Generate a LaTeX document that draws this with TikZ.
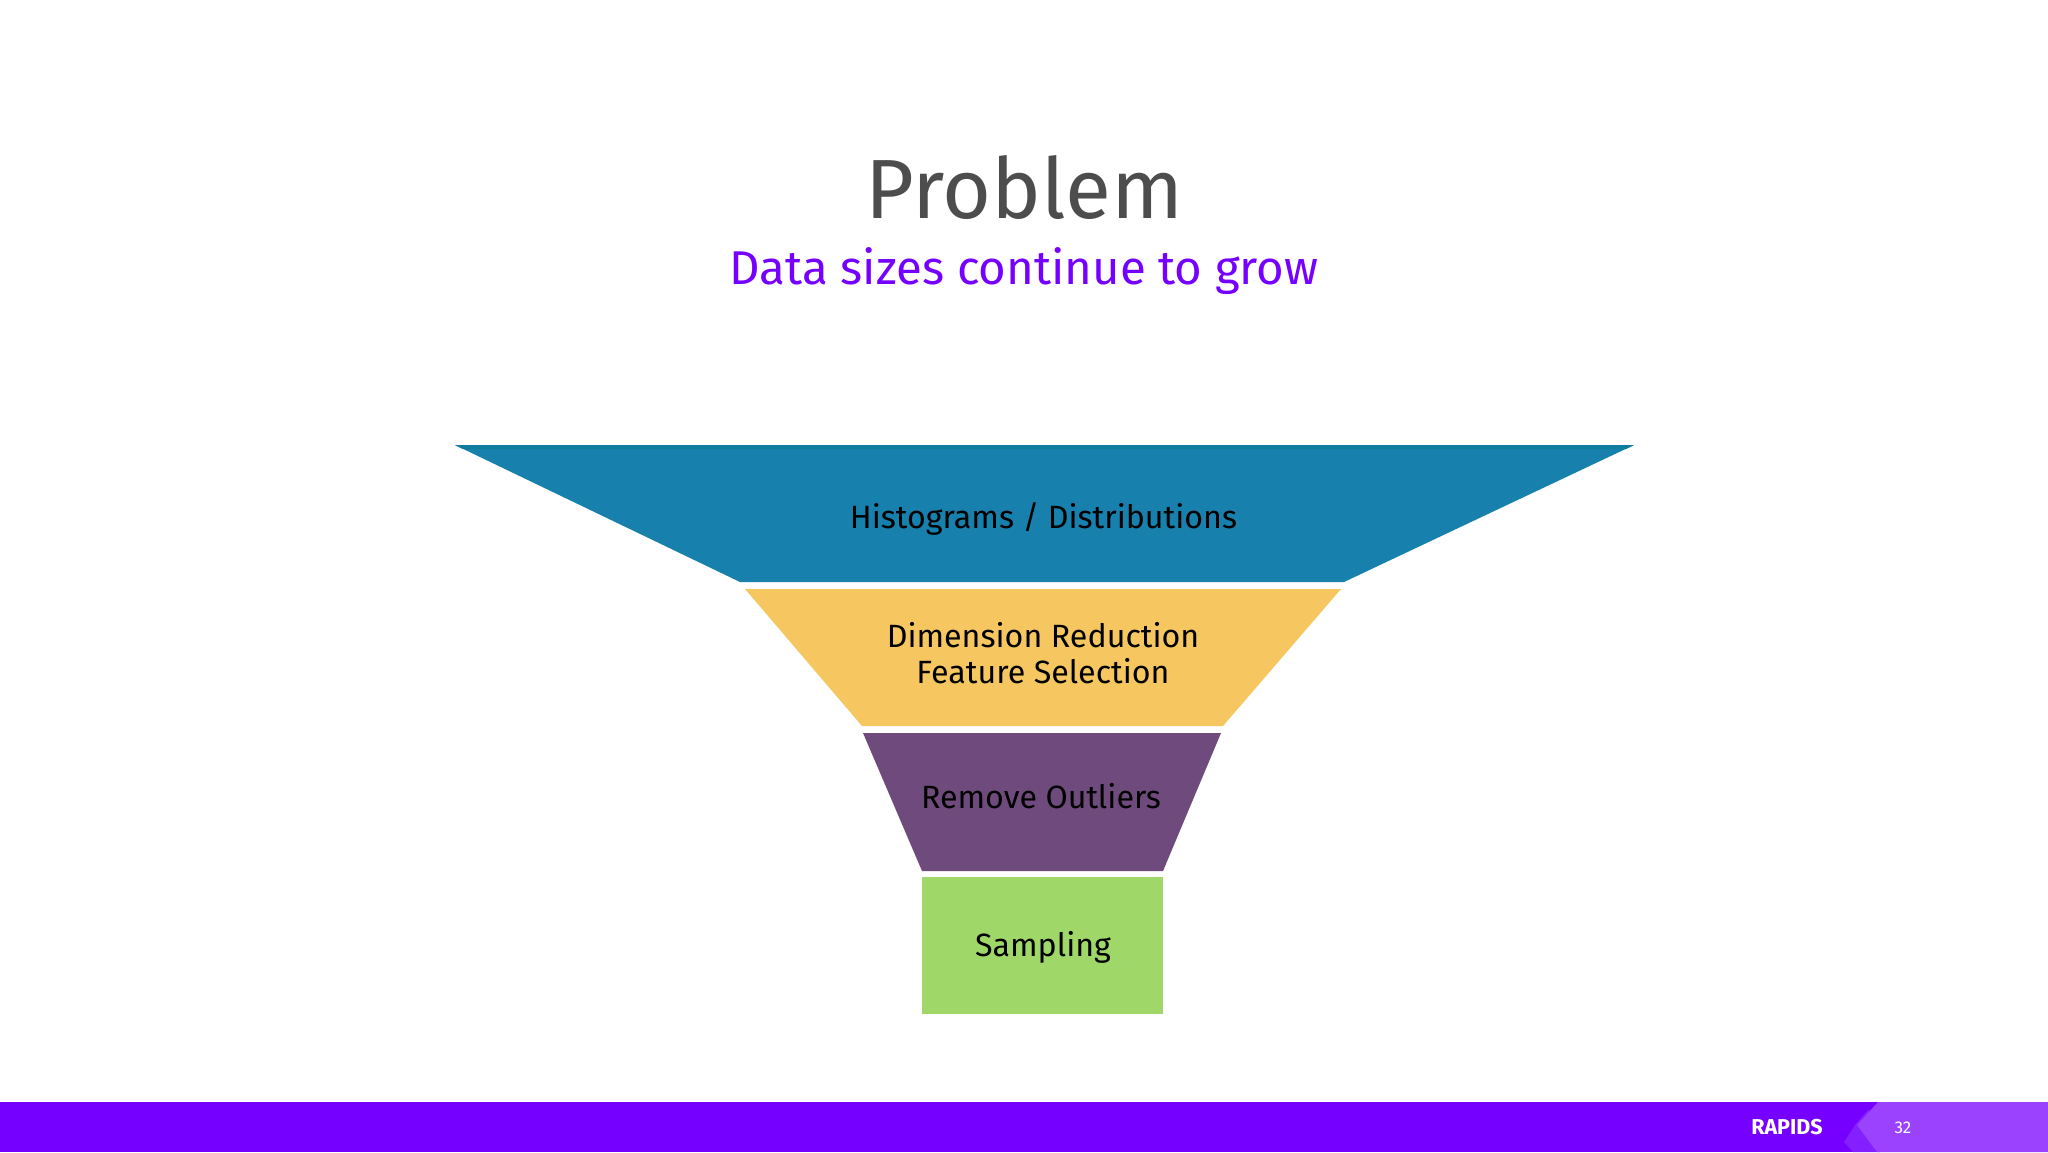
\documentclass[tikz,border=0pt]{standalone}
\usepackage{fontspec}
\setmainfont{Fira Sans}
\definecolor{barpurple}{HTML}{7600FF}
\definecolor{barlight}{HTML}{9B42FF}
\definecolor{barmid}{HTML}{8420FF}
\definecolor{teal1}{HTML}{1780AC}
\definecolor{teal2}{HTML}{0E7C9C}
\definecolor{yellow1}{HTML}{F6C761}
\definecolor{purple1}{HTML}{6F4B7D}
\definecolor{green1}{HTML}{9FD768}
\definecolor{titlegrey}{HTML}{4D4D4D}
\tikzset{
  lbl/.style={inner sep=0pt,align=center,text=black,font=\fontsize{32.2}{36}\selectfont},
}
\begin{document}
\begin{tikzpicture}[x=1pt,y=-1pt]
\useasboundingbox (0,0) rectangle (2048,1152);
\fill[white] (0,0) rectangle (2048,1152);
% funnel
\fill[teal1] (455,445) -- (1634,445) -- (1344,582) -- (740,582) -- cycle;
\fill[teal2] (455,445) -- (1634,445) -- (1626,449) -- (463,449) -- cycle;
\fill[yellow1] (745,589) -- (1341,589) -- (1223,726) -- (862,726) -- cycle;
\fill[purple1] (863,733) -- (1221,733) -- (1163,871) -- (922,871) -- cycle;
\fill[green1] (922,877) rectangle (1163,1014);
\node[lbl] (hist) at (1043.5,519) {Histograms / Distributions};
\node[lbl] (dim) at (1043,652.7) {Dimension Reduction\\Feature Selection};
\node[lbl] (out) at (1041,796) {Remove Outliers};
\node[lbl] (samp) at (1043,947) {Sampling};
% title
\node[inner sep=0pt,text=titlegrey,font=\fontsize{84}{90}\selectfont] (title) at (1024,187) {Problem};
\node[inner sep=0pt,text=barpurple,font=\fontsize{47.4}{50}\selectfont] (sub) at (1024,271) {Data sizes continue to grow};
% bottom bar
\fill[barpurple] (0,1102) rectangle (2048,1152);
\fill[barmid] (1868,1110) -- (1855,1125) -- (1844,1142) -- (1853,1152) -- (1880,1152) -- (1880,1110) -- cycle;
\fill[barlight] (1878,1102) -- (2048,1102) -- (2048,1152) -- (1877,1152) -- (1857,1125) -- cycle;
\node[inner sep=0pt,text=white,font=\bfseries\fontsize{21.5}{22}\selectfont] (logo) at (1787,1127) {RAPIDS};
\node[inner sep=0pt,text=white,font=\fontsize{17}{18}\selectfont] (page) at (1903,1128) {32};
\end{tikzpicture}
\end{document}
